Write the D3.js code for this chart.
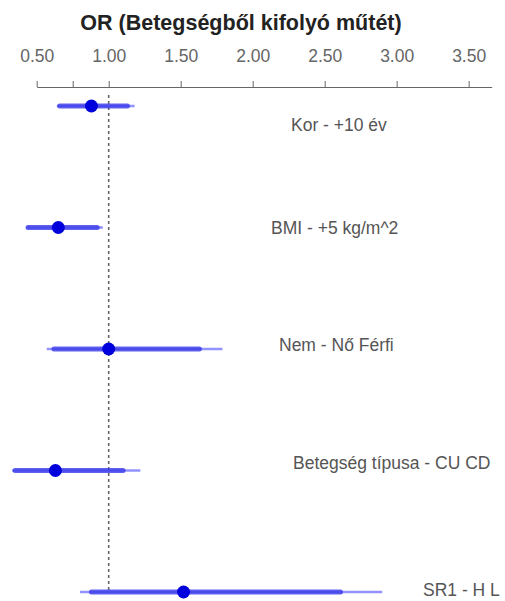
<!DOCTYPE html>
<html>
<head>
<meta charset="utf-8">
<script src="https://cdn.jsdelivr.net/npm/d3@7"></script>
<style>
  body { margin: 0; background: #fff; }
  svg { display: block; font-family: "Liberation Sans", Arial, sans-serif; }
</style>
</head>
<body>
<svg id="chart" width="505" height="601"></svg>
<script>
// data
const labels = ['Kor - +10 év', 'BMI - +5 kg/m^2', 'Nem - Nő Férfi', 'Betegség típusa - CU CD', 'SR1 - H L'];
const estimate = [0.88, 0.65, 1.00, 0.63, 1.52];
const innerLow = [0.66, 0.44, 0.62, 0.35, 0.88];
const innerHigh = [1.13, 0.92, 1.63, 1.10, 2.61];
const outerLow = [0.64, 0.43, 0.57, 0.33, 0.80];
const outerHigh = [1.18, 0.96, 1.79, 1.22, 2.90];
const tickValues = [0.5, 0.75, 1, 1.5, 2, 2.5, 3, 3.5];
const tickLabels = ['0.50', '', '1.00', '1.50', '2.00', '2.50', '3.00', '3.50'];

// label placement (layout only)
const labelX = [291, 271, 279, 293, 423];
const labelDy = [19, 0, -4, -8, -2];

const svg = d3.select('#chart');

const x = d3.scaleLinear()
    .domain([0.5, 3.66])
    .range([36.7, 491.7]);

const y = d3.scalePoint()
    .domain(labels)
    .range([106, 592]);

// title
svg.append('text')
    .attr('x', 241)
    .attr('y', 30)
    .attr('text-anchor', 'middle')
    .style('font-size', '21.5px')
    .style('font-weight', 'bold')
    .style('fill', '#222')
    .text('OR (Betegségből kifolyó műtét)');

// axis
const axis = svg.append('g')
    .attr('transform', 'translate(0,87)')
    .call(d3.axisTop(x)
        .tickValues(tickValues)
        .tickFormat((d, i) => tickLabels[i])
        .tickSize(6)
        .tickSizeOuter(0)
        .tickPadding(19));

axis.select('.domain').attr('stroke', '#666');
axis.selectAll('.tick line').attr('stroke', '#666');
axis.selectAll('.tick text')
    .style('font-size', '17.5px')
    .style('fill', '#666');

// reference line at OR = 1
svg.append('line')
    .attr('x1', x(1))
    .attr('x2', x(1))
    .attr('y1', 95)
    .attr('y2', 590)
    .attr('stroke', '#666')
    .attr('stroke-width', 1.6)
    .attr('stroke-dasharray', '3,3');

const rows = svg.append('g')
    .selectAll('g')
    .data(labels)
    .join('g')
    .attr('transform', d => 'translate(0,' + y(d) + ')');

rows.append('line')
    .attr('x1', (d, i) => x(outerLow[i]))
    .attr('x2', (d, i) => x(outerHigh[i]))
    .attr('stroke', '#6f6fff')
    .attr('stroke-opacity', 0.75)
    .attr('stroke-width', 2.5);

rows.append('line')
    .attr('x1', (d, i) => x(innerLow[i]))
    .attr('x2', (d, i) => x(innerHigh[i]))
    .attr('stroke', '#3a3ae8')
    .attr('stroke-opacity', 0.8)
    .attr('stroke-width', 5)
    .attr('stroke-linecap', 'round');

rows.append('circle')
    .attr('cx', (d, i) => x(estimate[i]))
    .attr('r', 6.5)
    .attr('fill', '#0000dd');

rows.append('text')
    .attr('x', (d, i) => labelX[i])
    .attr('y', (d, i) => labelDy[i])
    .attr('dy', '0.35em')
    .style('font-size', '17.5px')
    .style('fill', '#555')
    .text(d => d);
</script>
</body>
</html>
